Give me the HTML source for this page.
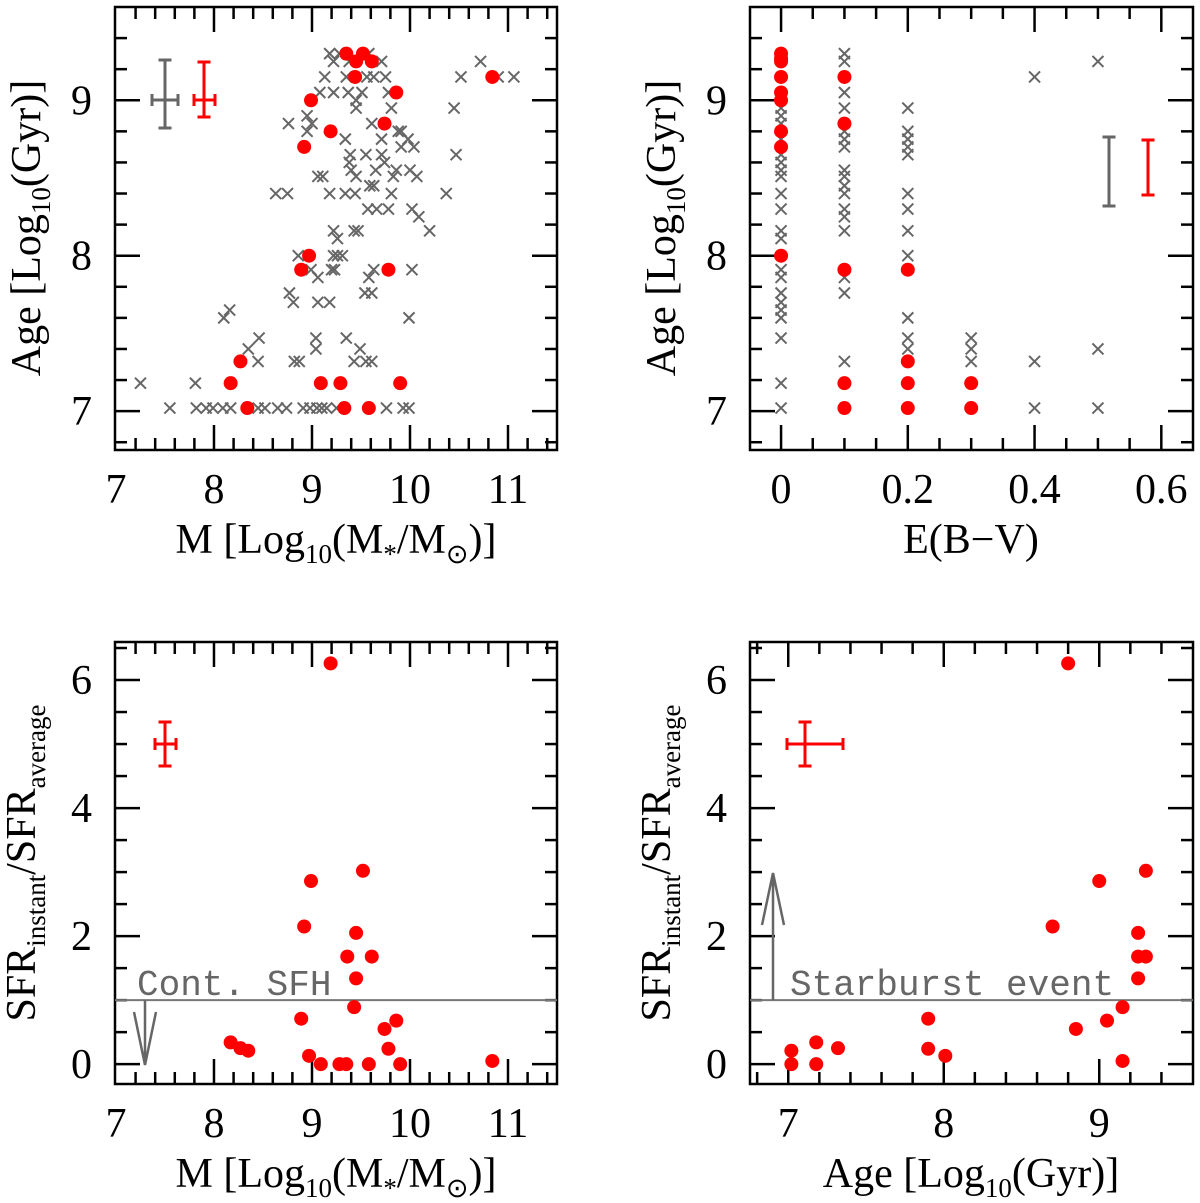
<!DOCTYPE html>
<html><head><meta charset="utf-8"><style>
html,body{margin:0;padding:0;background:#fff}
svg{display:block}
text{font-family:"Liberation Serif",serif;fill:#000}
</style></head><body>
<svg id="fig" width="1200" height="1203" viewBox="0 0 1200 1203" xmlns="http://www.w3.org/2000/svg"></svg>
<script>
// ---------- Panel 1: Age vs Mass ----------
const redMass1 = [9.35,9.52,9.45,9.61,9.44,10.84,9.86,8.99,9.74,9.19,8.92,8.97,8.89,9.78,8.27,8.17,9.09,9.29,9.90,8.34,9.33,9.58];
const redAge1  = [9.30,9.30,9.25,9.25,9.15,9.15,9.05,9.00,8.85,8.80,8.70,8.00,7.91,7.91,7.32,7.18,7.18,7.18,7.18,7.02,7.02,7.02];
const crossAgeLevels1 = [9.30,9.25,9.15,9.05,9.00,8.95,8.90,8.85,8.80,8.75,8.70,8.65,8.60,8.55,8.51,8.45,8.40,8.30,8.25,8.16,8.11,8.00,7.91,7.86,7.76,7.70,7.65,7.60,7.47,7.40,7.32,7.18,7.02];
const crossMassByLevel1 = [
 [9.18,9.28,9.58],[9.22,9.38,9.71,10.72],[9.13,9.35,9.56,9.63,9.75,10.52,10.90,11.06],[9.08,9.22,9.37,9.51,9.78],[9.45],
 [9.45,9.81,10.45],[8.95],[8.76,9.00,9.61],[8.95,9.88,9.91],[9.34,9.71,9.98],[9.91,10.04],[9.39,9.55,9.71,10.47],[9.38,9.74],
 [9.40,9.65,9.86,10.00],[9.06,9.11,9.45,9.83,10.07],[9.59,9.63],[8.63,8.75,9.18,9.34,9.44,9.81,10.37],[9.57,9.66,9.78,10.02],[10.09],
 [9.22,9.43,9.47,10.20],[9.26],[8.86,9.22,9.26,9.31],[8.99,9.20,9.23,9.63,10.02],[9.06,9.58],[8.77,9.54,9.61],[8.81,9.06,9.18],[8.16],
 [8.10,9.99],[8.46,9.04,9.35],[8.35,9.04,9.49],[8.45,8.82,8.87,9.43,9.55,9.61],[7.25,7.81],
 [7.55,7.82,7.92,7.99,8.09,8.17,8.45,8.52,8.65,8.74,8.91,8.98,9.05,9.10,9.15,9.25,9.76,9.93,9.99]
];
// ---------- Panel 2: Age vs E(B-V) ----------
const ebvColumns = [0,0.1,0.2,0.3,0.4,0.5];
const redAgesByEbv = [[9.30,9.27,9.25,9.15,9.05,9.00,8.80,8.70,8.00],[9.15,8.85,7.91,7.18,7.02],[7.91,7.32,7.18,7.02],[7.18,7.02],[],[]];
const crossAgesByEbv = [
 [8.95,8.90,8.85,8.75,8.65,8.60,8.55,8.51,8.40,8.30,8.16,8.11,7.91,7.86,7.76,7.70,7.65,7.60,7.47,7.18,7.02],
 [9.30,9.25,9.05,8.95,8.80,8.75,8.70,8.55,8.51,8.45,8.40,8.30,8.25,8.16,7.86,7.76,7.32],
 [8.95,8.80,8.75,8.70,8.65,8.40,8.30,8.16,8.00,7.60,7.47,7.40],
 [7.47,7.40,7.32],[9.15,7.32,7.02],[9.25,7.40,7.02]
];
// ---------- Panel 3: SFR ratio vs Mass ----------
const redMass3  = [9.19,9.52,8.99,8.92,9.45,9.36,9.61,9.45,9.43,8.89,9.86,9.74,9.78,8.17,8.27,8.35,8.97,9.09,9.28,9.35,9.58,9.90,10.84];
const redRatio3 = [6.26,3.02,2.86,2.15,2.05,1.68,1.68,1.34,0.89,0.71,0.68,0.55,0.24,0.34,0.25,0.21,0.13,0.00,0.00,0.00,0.00,0.00,0.05];
// ---------- Panel 4: SFR ratio vs Age ----------
const redAge4   = [8.80,9.30,9.00,8.70,9.25,9.25,9.30,9.25,9.15,7.90,9.05,8.85,7.90,7.18,7.32,7.02,8.01,7.02,7.18,9.15];
const redRatio4 = [6.26,3.02,2.86,2.15,2.05,1.68,1.68,1.34,0.89,0.71,0.68,0.55,0.24,0.34,0.25,0.21,0.13,0.00,0.00,0.05];
// tick labels
const xTicks1 = [7,8,9,10,11];
const yTicksAge = [7,8,9];
const xTicks2 = [0,0.2,0.4,0.6];
const xTickLabels2 = ["0","0.2","0.4","0.6"];
const yTicksSfr = [0,2,4,6];
const xTicks4 = [7,8,9];
const continuousLevel = [1];

const NS="http://www.w3.org/2000/svg";
const svg=document.getElementById('fig');
function mk(tag,attrs,parent){const e=document.createElementNS(NS,tag);for(const k in attrs)e.setAttribute(k,attrs[k]);(parent||svg).appendChild(e);return e;}
function scale(d0,d1,r0,r1){return v=>r0+(v-d0)*(r1-r0)/(d1-d0);}

function makePanel(name,box,xd,yd,xMinor,yMinor,xMajor,yMajor){
  const g=mk('g',{});
  
  
  const X=scale(xd[0],xd[1],box.l,box.r), Y=scale(yd[0],yd[1],box.b,box.t);
  const fr=mk('rect',{x:box.l,y:box.t,width:box.r-box.l,height:box.b-box.t,fill:'none',stroke:'#000','stroke-width':2.5},g);
  
  
  const tk=mk('g',{stroke:'#000','stroke-width':2.5},g);
  
  
  const eps=1e-6;
  let n0=Math.ceil((xd[0]-eps)/xMinor), n1=Math.floor((xd[1]+eps)/xMinor);
  for(let i=n0;i<=n1;i++){const v=i*xMinor;const major=Math.abs(v/xMajor-Math.round(v/xMajor))<1e-4;const L=major?25:12;const x=X(v);
    if(x<box.l+1||x>box.r-1)continue;
    mk('line',{x1:x,x2:x,y1:box.b,y2:box.b-L},tk);mk('line',{x1:x,x2:x,y1:box.t,y2:box.t+L},tk);}
  n0=Math.ceil((yd[0]-eps)/yMinor); n1=Math.floor((yd[1]+eps)/yMinor);
  for(let i=n0;i<=n1;i++){const v=i*yMinor;const major=Math.abs(v/yMajor-Math.round(v/yMajor))<1e-4;const L=major?25:12;const y=Y(v);
    if(y<box.t+1||y>box.b-1)continue;
    mk('line',{x1:box.l,x2:box.l+L,y1:y,y2:y},tk);mk('line',{x1:box.r,x2:box.r-L,y1:y,y2:y},tk);}
  return {g,X,Y,box};
}
function xLabels(p,vals,labels){vals.forEach((v,i)=>{const t=mk('text',{x:p.X(v),y:p.box.b+53,'text-anchor':'middle','font-size':42},p.g);t.textContent=labels?labels[i]:String(v);
  
  });}
function yLabels(p,vals){vals.forEach(v=>{const t=mk('text',{x:p.box.l-23,y:p.Y(v)+14,'text-anchor':'end','font-size':42},p.g);t.textContent=String(v);
  
  });}
function dot(p,x,y){const c=mk('circle',{cx:p.X(x),cy:p.Y(y),r:7,fill:'#ff0000'},p.g);
  
  }
function cross(p,x,y){const cx=p.X(x),cy=p.Y(y),s=5.5;const e=mk('path',{d:`M${cx-s},${cy-s}L${cx+s},${cy+s}M${cx-s},${cy+s}L${cx+s},${cy-s}`,stroke:'#666','stroke-width':2,fill:'none'},p.g);
  
  }
function errbar(p,name,cx,cy,y0,y1,x0,x1,col){const g=mk('g',{stroke:col,'stroke-width':3,fill:'none'},p.g);
  
  
  mk('path',{d:`M${cx},${y0}V${y1}M${cx-6.5},${y0}H${cx+6.5}M${cx-6.5},${y1}H${cx+6.5}`},g);
  if(x0!==null)mk('path',{d:`M${x0},${cy}H${x1}M${x0},${cy-6}V${cy+6}M${x1},${cy-6}V${cy+6}`},g);}
function richText(parent,x,y,parts,rot,name){
  const t=mk('text',{x:x,y:y,'font-size':42,'text-anchor':'middle'},parent);
  if(rot)t.setAttribute('transform',`rotate(-90 ${x} ${y})`);
  
  
  let shift=0;
  parts.forEach(pt=>{const ts=mk('tspan',{},t);const target=pt[1]==='sub'?10:0;ts.setAttribute('dy',target-shift);shift=target;if(pt[1]==='sub')ts.setAttribute('font-size',27);ts.textContent=pt[0];});
  return t;
}

// Panel 1
const p1=makePanel('panel-age-vs-mass',{l:115,r:557,t:7,b:450},[6.99,11.5],[6.75,9.6],0.2,0.2,1,1);
xLabels(p1,xTicks1);yLabels(p1,yTicksAge);
crossAgeLevels1.forEach((a,i)=>crossMassByLevel1[i].forEach(m=>cross(p1,m,a)));
redMass1.forEach((m,i)=>dot(p1,m,redAge1[i]));
errbar(p1,'gray-error-bar',165,100,60,128,152,178,'#666');
errbar(p1,'red-error-bar',204,100,62,117,194,215,'#ff0000');
richText(p1.g,336,553,[['M [Log'],['10','sub'],['(M'],['*','sub'],['/M'],['⊙','sub'],[')]']],false,'x-axis-title');
richText(p1.g,40,228,[['Age [Log'],['10','sub'],['(Gyr)]']],true,'y-axis-title');

// Panel 2
const p2=makePanel('panel-age-vs-ebv',{l:750,r:1193,t:7,b:450},[-0.049,0.65],[6.75,9.6],0.05,0.2,0.2,1);
xLabels(p2,xTicks2,xTickLabels2);yLabels(p2,yTicksAge);
ebvColumns.forEach((e,i)=>crossAgesByEbv[i].forEach(a=>cross(p2,e,a)));
ebvColumns.forEach((e,i)=>redAgesByEbv[i].forEach(a=>dot(p2,e,a)));
errbar(p2,'gray-error-bar',1109,0,137,206,null,null,'#666');
errbar(p2,'red-error-bar',1148,0,140,195,null,null,'#ff0000');
richText(p2.g,971,553,[['E(B−V)']],false,'x-axis-title');
richText(p2.g,675,228,[['Age [Log'],['10','sub'],['(Gyr)]']],true,'y-axis-title');

// Panel 3
const p3=makePanel('panel-sfr-vs-mass',{l:115,r:557,t:642,b:1084},[6.99,11.5],[-0.31,6.594],0.2,0.5,1,2);
xLabels(p3,xTicks1);yLabels(p3,yTicksSfr);
continuousLevel.forEach(v=>{const l=mk('line',{x1:115,x2:557,y1:p3.Y(v),y2:p3.Y(v),stroke:'#777','stroke-width':2},p3.g);
  
  });
{const y0=p3.Y(1),y1=1065;const a=mk('path',{d:`M145,${y0}V${y1}M134,1012L145,${y1}L156,1012`,stroke:'#666','stroke-width':2.5,fill:'none'},p3.g);
 
 }
{const t=mk('text',{x:137,y:995,'font-size':36,style:'fill:#666;font-family:"Liberation Mono",monospace'},p3.g);t.textContent='Cont. SFH';
 
 }
redMass3.forEach((m,i)=>dot(p3,m,redRatio3[i]));
errbar(p3,'red-error-bar',165,744,722,766,155,176,'#ff0000');
richText(p3.g,336,1187,[['M [Log'],['10','sub'],['(M'],['*','sub'],['/M'],['⊙','sub'],[')]']],false,'x-axis-title');
richText(p3.g,35,863,[['SFR'],['instant','sub'],['/SFR'],['average','sub']],true,'y-axis-title');

// Panel 4
const p4=makePanel('panel-sfr-vs-age',{l:750,r:1193,t:642,b:1084},[6.754,9.603],[-0.31,6.594],0.2,0.5,1,2);
xLabels(p4,xTicks4);yLabels(p4,yTicksSfr);
continuousLevel.forEach(v=>{const l=mk('line',{x1:750,x2:1193,y1:p4.Y(v),y2:p4.Y(v),stroke:'#777','stroke-width':2},p4.g);
  
  });
{const y0=p4.Y(1);const a=mk('path',{d:`M773,${y0}V873M762,925L773,873L784,925`,stroke:'#666','stroke-width':2.5,fill:'none'},p4.g);
 
 }
{const t=mk('text',{x:790,y:995,'font-size':36,style:'fill:#666;font-family:"Liberation Mono",monospace'},p4.g);t.textContent='Starburst event';
 
 }
redAge4.forEach((a,i)=>dot(p4,a,redRatio4[i]));
errbar(p4,'red-error-bar',805,744,722,766,787,843,'#ff0000');
richText(p4.g,971,1187,[['Age [Log'],['10','sub'],['(Gyr)]']],false,'x-axis-title');
richText(p4.g,670,863,[['SFR'],['instant','sub'],['/SFR'],['average','sub']],true,'y-axis-title');
</script>
</body></html>
